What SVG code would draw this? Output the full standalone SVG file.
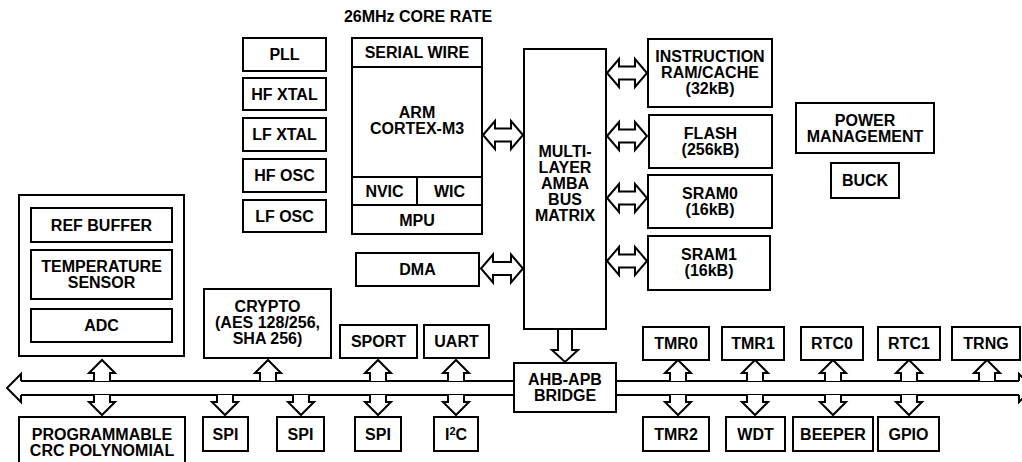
<svg xmlns="http://www.w3.org/2000/svg" width="1022" height="462" viewBox="0 0 1022 462">
<style>
.box{fill:#fff;stroke:#000;stroke-width:2}
.ln{fill:none;stroke:#000;stroke-width:2}
.ar{fill:#fff;stroke:#000;stroke-width:2;stroke-linejoin:miter}
.t{font-family:"Liberation Sans",Arial,Helvetica,sans-serif;font-weight:bold;font-size:16px;text-anchor:middle;fill:#000}
</style>
<defs>
<path id="dbl" class="ar" d="M0,0 L12,-14 V-6.5 H28 V-14 L40,0 L28,14 V6.5 H12 V14 Z"/>
<path id="up" class="ar" d="M-8,21 V13 H-13 L0,0 L13,13 H8 V21"/>
<path id="dn" class="ar" d="M-8,0 V7 H-13 L0,20 L13,7 H8 V0"/>
</defs>
<rect width="1022" height="462" fill="#fff"/>
<text class="t" x="418" y="22">26MHz CORE RATE</text>

<g id="connectors">
<!-- bus -->
<path class="ln" d="M21,381 H514 M21,395 H514 M616,381 H1019 M616,395 H1019"/>
<path class="ln" d="M21,381 V374 L7,388 L21,402 V395"/>
<path class="ln" d="M1019,381 V374 L1033,388 L1019,402 V395"/>
<use href="#dbl" x="483" y="135"/>
<use href="#dbl" x="607" y="73"/>
<use href="#dbl" x="607" y="136"/>
<use href="#dbl" x="607" y="198"/>
<use href="#dbl" x="607" y="261"/>
<path class="ar" d="M481,268.5 L493,254.5 V262 H511 V254.5 L523,268.5 L511,282.5 V275 H493 V282.5 Z"/>
<path class="ar" d="M558,329 V350 H552 L565,362 L578,350 H572 V329"/>
<use href="#up" x="102" y="360"/>
<use href="#up" x="268" y="360"/>
<use href="#up" x="378" y="360"/>
<use href="#up" x="456" y="360"/>
<use href="#up" x="678" y="360"/>
<use href="#up" x="755" y="360"/>
<use href="#up" x="833" y="360"/>
<use href="#up" x="909" y="360"/>
<use href="#up" x="987" y="360"/>
<use href="#dn" x="102" y="395"/>
<use href="#dn" x="225" y="395"/>
<use href="#dn" x="301" y="395"/>
<use href="#dn" x="378" y="395"/>
<use href="#dn" x="456" y="395"/>
<use href="#dn" x="678" y="395"/>
<use href="#dn" x="755" y="395"/>
<use href="#dn" x="833" y="395"/>
<use href="#dn" x="909" y="395"/>
</g>

<g id="pll"><rect class="box" x="243" y="38" width="83" height="33"/><text class="t" x="284.5" y="60">PLL</text></g>
<g id="hfxtal"><rect class="box" x="243" y="78" width="83" height="32"/><text class="t" x="284.5" y="100">HF XTAL</text></g>
<g id="lfxtal"><rect class="box" x="243" y="118" width="83" height="33"/><text class="t" x="284.5" y="140">LF XTAL</text></g>
<g id="hfosc"><rect class="box" x="243" y="159" width="83" height="33"/><text class="t" x="284.5" y="181">HF OSC</text></g>
<g id="lfosc"><rect class="box" x="243" y="200" width="83" height="32"/><text class="t" x="284.5" y="222">LF OSC</text></g>

<g id="arm">
<rect class="box" x="352" y="38" width="130" height="196"/>
<path class="ln" d="M352,67 H482 M352,177 H482 M352,205 H482 M417,177 V205"/>
<text class="t" x="417" y="58">SERIAL WIRE</text>
<text class="t" x="417" y="118">ARM</text>
<text class="t" x="417" y="134">CORTEX-M3</text>
<text class="t" x="384.5" y="197">NVIC</text>
<text class="t" x="449.5" y="197">WIC</text>
<text class="t" x="417" y="225.5">MPU</text>
</g>
<g id="dma"><rect class="box" x="356" y="253" width="123" height="33"/><text class="t" x="417.5" y="275">DMA</text></g>

<g id="matrix">
<rect class="box" x="524" y="49" width="82" height="280"/>
<text class="t" x="565" y="157">MULTI-</text>
<text class="t" x="565" y="173">LAYER</text>
<text class="t" x="565" y="189">AMBA</text>
<text class="t" x="565" y="205">BUS</text>
<text class="t" x="565" y="221">MATRIX</text>
</g>

<g id="iram"><rect class="box" x="648" y="39" width="124" height="68"/>
<text class="t" x="710" y="62">INSTRUCTION</text><text class="t" x="710" y="78">RAM/CACHE</text><text class="t" x="710" y="94">(32kB)</text></g>
<g id="flash"><rect class="box" x="649" y="115" width="123" height="53"/>
<text class="t" x="710.5" y="139">FLASH</text><text class="t" x="710.5" y="155">(256kB)</text></g>
<g id="sram0"><rect class="box" x="648" y="175" width="124" height="53"/>
<text class="t" x="710" y="199">SRAM0</text><text class="t" x="710" y="215">(16kB)</text></g>
<g id="sram1"><rect class="box" x="648" y="236" width="122" height="54"/>
<text class="t" x="709" y="260">SRAM1</text><text class="t" x="709" y="276">(16kB)</text></g>

<g id="power"><rect class="box" x="796" y="103" width="138" height="50"/>
<text class="t" x="865" y="126">POWER</text><text class="t" x="865" y="142">MANAGEMENT</text></g>
<g id="buck"><rect class="box" x="831" y="163" width="68" height="35"/><text class="t" x="865" y="186">BUCK</text></g>

<g id="analog">
<rect class="box" x="19" y="195" width="165" height="161"/>
<rect class="box" x="31" y="208" width="141" height="34"/><text class="t" x="101.5" y="231">REF BUFFER</text>
<rect class="box" x="31" y="250" width="141" height="49"/><text class="t" x="101.5" y="272">TEMPERATURE</text><text class="t" x="101.5" y="288">SENSOR</text>
<rect class="box" x="31" y="309" width="141" height="33"/><text class="t" x="101.5" y="331">ADC</text>
</g>

<g id="crypto"><rect class="box" x="204" y="289" width="127" height="69"/>
<text class="t" x="267.5" y="312">CRYPTO</text><text class="t" x="267.5" y="328">(AES 128/256,</text><text class="t" x="267.5" y="344">SHA 256)</text></g>
<g id="sport"><rect class="box" x="340" y="325" width="77" height="33"/><text class="t" x="378.5" y="347">SPORT</text></g>
<g id="uart"><rect class="box" x="424" y="325" width="65" height="33"/><text class="t" x="456.5" y="347">UART</text></g>

<g id="bridge"><rect class="box" x="514" y="363" width="102" height="49"/>
<text class="t" x="565" y="385">AHB-APB</text><text class="t" x="565" y="401">BRIDGE</text></g>

<g id="tmr0"><rect class="box" x="643" y="327" width="66" height="33"/><text class="t" x="676" y="349">TMR0</text></g>
<g id="tmr1"><rect class="box" x="722" y="327" width="62" height="33"/><text class="t" x="753" y="349">TMR1</text></g>
<g id="rtc0"><rect class="box" x="801" y="327" width="62" height="33"/><text class="t" x="832" y="349">RTC0</text></g>
<g id="rtc1"><rect class="box" x="878" y="327" width="62" height="33"/><text class="t" x="909" y="349">RTC1</text></g>
<g id="trng"><rect class="box" x="952" y="327" width="68" height="33"/><text class="t" x="986" y="349">TRNG</text></g>

<g id="crc"><rect class="box" x="19" y="417" width="166" height="60"/>
<text class="t" x="102" y="440">PROGRAMMABLE</text><text class="t" x="102" y="456">CRC POLYNOMIAL</text></g>
<g id="spi1"><rect class="box" x="203" y="417" width="45" height="34"/><text class="t" x="225.5" y="440">SPI</text></g>
<g id="spi2"><rect class="box" x="277" y="417" width="47" height="34"/><text class="t" x="300.5" y="440">SPI</text></g>
<g id="spi3"><rect class="box" x="355" y="417" width="46" height="34"/><text class="t" x="378" y="440">SPI</text></g>
<g id="i2c"><rect class="box" x="434" y="417" width="44" height="34"/><text class="t" x="456" y="440">I<tspan font-size="11" dy="-5">2</tspan><tspan dy="5">C</tspan></text></g>
<g id="tmr2"><rect class="box" x="643" y="417" width="66" height="34"/><text class="t" x="676" y="440">TMR2</text></g>
<g id="wdt"><rect class="box" x="726" y="417" width="59" height="34"/><text class="t" x="755.5" y="440">WDT</text></g>
<g id="beeper"><rect class="box" x="793" y="417" width="80" height="34"/><text class="t" x="833" y="440">BEEPER</text></g>
<g id="gpio"><rect class="box" x="878" y="417" width="61" height="34"/><text class="t" x="908.5" y="440">GPIO</text></g>
</svg>
